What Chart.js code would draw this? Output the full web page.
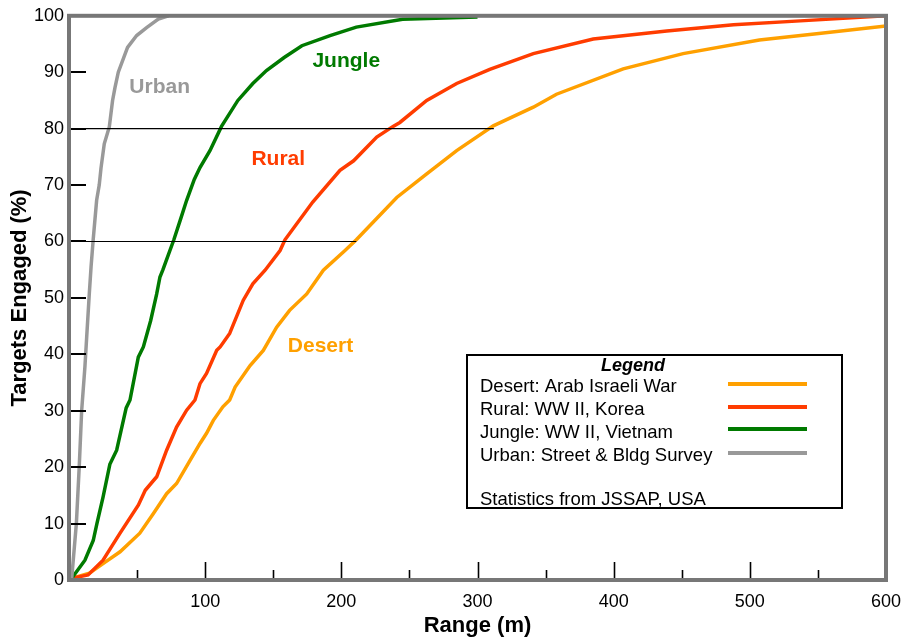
<!DOCTYPE html>
<html>
<head>
<meta charset="utf-8">
<script src="https://cdn.jsdelivr.net/npm/chart.js@4.4.0/dist/chart.umd.min.js"></script>
<style>
  body { margin: 0; background: #fff; }
</style>
</head>
<body>
<canvas id="rangeChart" width="905" height="639"></canvas>
<script>
// range (m) vs targets engaged (%)
const urbanRange  = [0, 2, 5.4, 7.5, 9.3, 11.7, 13, 14.9, 16.2, 17.8, 20.3, 22.2, 23.5, 25.9, 29.6, 32, 33.8, 36.2, 43, 49.7, 57, 65.6, 73];
const urbanPct    = [0, 0.3, 10, 20, 30, 37.8, 43.1, 50.7, 55.5, 60.4, 67.3, 70, 73, 77.3, 80.3, 85, 87.3, 90, 94.4, 96.5, 97.9, 99.4, 100];

const jungleRange = [0, 2, 11.7, 17.8, 20.5, 25, 30, 35, 42, 44.8, 50.9, 54.6, 60, 64.4, 66.8, 69, 72, 77, 82, 86.4, 92, 96.2, 103.5, 112, 124, 135, 145, 158, 171, 191.7, 211, 245, 300];
const junglePct   = [0, 0.3, 3.5, 7, 10, 14.7, 20.5, 23, 30.5, 31.9, 39.5, 41.3, 46, 50.7, 53.7, 55, 57, 60.3, 64, 67.3, 71, 73.1, 76.1, 80.4, 85, 88, 90.3, 92.6, 94.7, 96.5, 98, 99.4, 99.8];

const ruralRange  = [0, 2, 14, 25, 37.5, 51, 56, 64.4, 71.7, 79, 86.4, 92.5, 96.2, 101, 108.5, 111, 118, 128, 135, 144, 155, 158.6, 179, 199, 209, 226, 238, 243, 262.7, 284.7, 309, 341, 385, 439, 488, 537, 600];
const ruralPct    = [0, 0.3, 0.9, 3.5, 8.3, 13.3, 15.9, 18.3, 23, 27.1, 30.1, 31.9, 34.8, 36.6, 40.7, 41.3, 43.7, 49.6, 52.5, 54.9, 58.4, 60.3, 67, 72.6, 74.3, 78.5, 80.4, 81.1, 85, 88, 90.5, 93.3, 95.9, 97.3, 98.4, 99.1, 100];

const desertRange = [0, 2, 15, 25, 37.5, 52, 62, 71.7, 79, 88.9, 96.2, 101, 106, 113, 118, 122, 133, 142.7, 152.5, 162, 174.6, 186.8, 202.7, 211, 240.7, 262.7, 284.7, 311.6, 341, 358, 407, 451, 507, 549, 600];
const desertPct   = [0, 0.3, 1.2, 2.9, 5, 8.3, 11.8, 15.3, 17.1, 21.2, 24.2, 26, 28.3, 30.7, 31.9, 34.2, 38, 40.7, 44.8, 47.8, 50.7, 54.9, 58.4, 60.3, 67.8, 72, 76.1, 80.5, 83.8, 86.1, 90.6, 93.3, 95.7, 96.8, 98.2];

// horizontal marker lines at 80% and 60%
const line80Range = [0, 312];
const line60Range = [0, 211];

const seriesNames  = ['Desert', 'Rural', 'Jungle', 'Urban'];
const seriesColors = ['#ffa000', '#ff3c00', '#007a00', '#999999'];
const legendLabels = ['Desert: Arab Israeli War', 'Rural: WW II, Korea', 'Jungle: WW II, Vietnam', 'Urban: Street & Bldg Survey'];
const legendNote   = 'Statistics from JSSAP, USA';
// in-chart name labels: [range, pct] of the text baseline centre
const nameSpots = [[184.7, 40.4], [153.7, 73.5], [203.6, 91], [66.6, 86.3]];

const FONT = '"Liberation Sans", Arial, sans-serif';

const pts = (xs, ys) => xs.map((x, i) => ({ x: x, y: ys[i] }));

const curve = (name, data, color) => ({
  label: name,
  data: data,
  borderColor: color,
  borderWidth: 3.5,
  pointRadius: 0,
  tension: 0,
  fill: false
});

const refLine = (data) => ({
  label: 'ref',
  data: data,
  borderColor: '#000',
  borderWidth: 1.2,
  pointRadius: 0,
  fill: false
});

const frame = {
  id: 'frame',
  afterDatasetsDraw(chart) {
    const { ctx, chartArea: a, scales } = chart;
    ctx.save();
    ctx.strokeStyle = '#000';
    ctx.lineWidth = 2;
    for (let v = 10; v < 100; v += 10) {
      const y = Math.round(scales.y.getPixelForValue(v));
      ctx.beginPath();
      ctx.moveTo(a.left, y);
      ctx.lineTo(a.left + 17, y);
      ctx.stroke();
    }
    ctx.lineWidth = 1.6;
    for (let v = 50; v < 600; v += 50) {
      const x = Math.round(scales.x.getPixelForValue(v)) + 0.5;
      const len = v % 100 === 0 ? 18 : 10;
      ctx.beginPath();
      ctx.moveTo(x, a.bottom);
      ctx.lineTo(x, a.bottom - len);
      ctx.stroke();
    }
    ctx.strokeStyle = '#777';
    ctx.lineWidth = 4;
    ctx.strokeRect(a.left, a.top, a.right - a.left, a.bottom - a.top);
    ctx.restore();
  },
  afterDraw(chart) {
    const { ctx, scales } = chart;
    ctx.save();
    // series names
    ctx.font = 'bold 21px ' + FONT;
    ctx.textAlign = 'center';
    ctx.textBaseline = 'alphabetic';
    nameSpots.forEach((p, i) => {
      ctx.fillStyle = seriesColors[i];
      ctx.fillText(seriesNames[i], scales.x.getPixelForValue(p[0]), scales.y.getPixelForValue(p[1]));
    });

    // legend box
    const bx = 467, by = 355, bw = 375, bh = 153;
    ctx.fillStyle = '#fff';
    ctx.fillRect(bx, by, bw, bh);
    ctx.strokeStyle = '#000';
    ctx.lineWidth = 2;
    ctx.strokeRect(bx, by, bw, bh);

    ctx.fillStyle = '#000';
    ctx.font = 'italic bold 18px ' + FONT;
    ctx.fillText('Legend', 633, 371);

    ctx.textAlign = 'left';
    ctx.font = '18.5px ' + FONT;
    const rows = [392, 415, 438, 461];
    const sampleY = [384, 407, 429, 453];
    legendLabels.forEach((t, i) => {
      ctx.fillStyle = '#000';
      ctx.fillText(t, 480, rows[i]);
      ctx.strokeStyle = seriesColors[i];
      ctx.lineWidth = 4;
      ctx.beginPath();
      ctx.moveTo(728, sampleY[i]);
      ctx.lineTo(807, sampleY[i]);
      ctx.stroke();
    });
    ctx.fillStyle = '#000';
    ctx.fillText(legendNote, 480, 505);
    ctx.restore();
  }
};

new Chart(document.getElementById('rangeChart'), {
  type: 'line',
  data: {
    datasets: [
      refLine(pts(line80Range, [80, 80])),
      refLine(pts(line60Range, [60, 60])),
      curve('Urban', pts(urbanRange, urbanPct), seriesColors[3]),
      curve('Jungle', pts(jungleRange, junglePct), seriesColors[2]),
      curve('Rural', pts(ruralRange, ruralPct), seriesColors[1]),
      curve('Desert', pts(desertRange, desertPct), seriesColors[0])
    ]
  },
  options: {
    responsive: false,
    animation: false,
    layout: { padding: { top: 15, right: 19, left: 0, bottom: 0 } },
    plugins: { legend: { display: false }, tooltip: { enabled: false } },
    scales: {
      x: {
        type: 'linear',
        min: 0, max: 600,
        grid: { display: false, drawTicks: false },
        border: { display: false },
        ticks: {
          stepSize: 100, autoSkip: false, maxRotation: 0, padding: 11,
          color: '#000',
          font: { family: FONT, size: 18 },
          callback: v => v === 0 ? '' : v
        },
        title: {
          display: true, text: 'Range (m)', color: '#000',
          font: { family: FONT, size: 22, weight: 'bold' },
          padding: { top: 0, bottom: 0 }
        },
        afterFit: s => { s.height = 59; s.paddingRight = 19; }
      },
      y: {
        min: 0, max: 100,
        grid: { display: false, drawTicks: false },
        border: { display: false },
        ticks: {
          stepSize: 10, padding: 5, color: '#000',
          font: { family: FONT, size: 18 }
        },
        title: {
          display: true, text: 'Targets Engaged (%)', color: '#000',
          font: { family: FONT, size: 22, weight: 'bold' },
          padding: { top: 7, bottom: 0 }
        },
        afterFit: s => { s.width = 69; }
      }
    }
  },
  plugins: [frame]
});
</script>
</body>
</html>
